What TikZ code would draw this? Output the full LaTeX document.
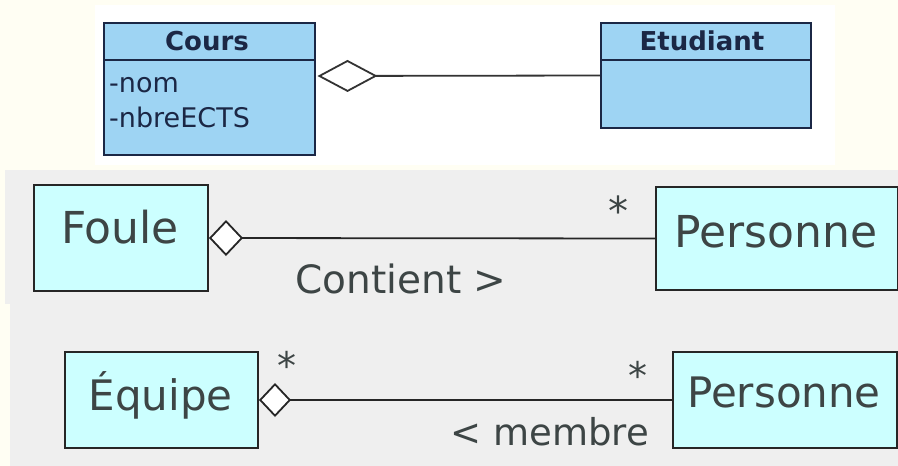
\documentclass[tikz,border=0pt]{standalone}
\usepackage{fontspec}
\setmainfont{DejaVu Sans}
\usetikzlibrary{arrows.meta}
\definecolor{cream}{HTML}{FFFEF3}
\definecolor{panelgray}{HTML}{EFEFEF}
\definecolor{umlblue}{HTML}{9ED4F3}
\definecolor{navy}{HTML}{1B2745}
\definecolor{cyanfill}{HTML}{CCFFFF}
\definecolor{darktext}{HTML}{3D4545}
\tikzset{
  umlbox/.style={draw=navy, line width=2pt, fill=umlblue, anchor=north west, inner sep=0pt},
  classbox/.style={draw=black!85, line width=2pt, fill=cyanfill, anchor=north west, inner sep=0pt},
  hdr/.style={font=\fontsize{26}{30}\bfseries, text=navy, anchor=base, inner sep=0pt},
  attr/.style={font=\fontsize{27}{30}\selectfont, text=navy, anchor=base west, inner sep=0pt},
  bigname/.style={font=\fontsize{44}{48}\selectfont, text=darktext, anchor=base, inner sep=0pt},
  midname/.style={font=\fontsize{42}{46}\selectfont, text=darktext, anchor=base, inner sep=0pt},
  mult/.style={font=\fontsize{40}{44}\selectfont, text=darktext, anchor=base, inner sep=0pt},
  assoc/.style={text=darktext, anchor=base, inner sep=0pt},
  aggr/.style={line width=1.8pt, draw=black!85},
}
\begin{document}
\begin{tikzpicture}[x=1pt, y=-1pt]
  % backgrounds
  \fill[cream] (0,0) rectangle (898,466);
  \fill[white] (95,5) rectangle (835,165);
  \fill[panelgray] (5,170) rectangle (898,304);
  \fill[panelgray] (10,304) rectangle (898,466);
  \useasboundingbox (0,0) rectangle (898,466);

  % ---- top: Cours / Etudiant ----
  \node[umlbox, minimum width=211pt, minimum height=132pt] (cours) at (103,22) {};
  \draw[navy, line width=2pt] (cours.west |- 0,60) -- (cours.east |- 0,60);
  \node[hdr] (coursT) at (207,50) {Cours};
  \node[attr] (nom) at (109,92) {-nom};
  \node[attr] (ects) at (109,127) {-nbreECTS};

  \node[umlbox, minimum width=210pt, minimum height=105pt] (etud) at (600,22) {};
  \draw[navy, line width=2pt] (etud.west |- 0,60) -- (etud.east |- 0,60);
  \node[hdr] (etudT) at (702,50) {Etudiant};

  \draw[line width=1.8pt, draw=black!80, {Diamond[open, length=60pt, width=32pt, line width=1.8pt]}-]
    ([xshift=1.5pt, yshift=13pt]cours.east) -- (etud.west);

  % ---- middle: Foule / Personne ----
  \node[classbox, minimum width=174pt, minimum height=106pt] (foule) at (33,184) {};
  \node[bigname] (fouleT) at (120,243) {Foule};
  \node[classbox, minimum width=242pt, minimum height=103pt] (pers1) at (655,186) {};
  \node[bigname] (pers1T) at (776,247) {Personne};
  \draw[aggr, {Diamond[fill=white, length=34pt, width=36pt, line width=1.8pt]}-]
    (foule.east) -- (pers1.west);
  \node[mult] (m1) at (618,225) {*};
  \node[assoc, font=\fontsize{39}{44}\selectfont] (contient) at (401,293) {Contient >};

  % ---- bottom: Équipe / Personne ----
  \node[classbox, minimum width=193pt, minimum height=96pt] (equipe) at (64,351) {};
  \node[midname] (equipeT) at (160.5,410) {Équipe};
  \node[classbox, minimum width=224pt, minimum height=96pt] (pers2) at (672,351) {};
  \node[midname] (pers2T) at (784,407) {Personne};
  \draw[aggr, {Diamond[fill=white, length=32pt, width=34pt, line width=1.8pt]}-]
    (equipe.east) -- (pers2.west);
  \node[mult, font=\fontsize{38}{42}\selectfont] (m2) at (287,379) {*};
  \node[mult, font=\fontsize{38}{42}\selectfont] (m3) at (638,389) {*};
  \node[assoc, font=\fontsize{37}{42}\selectfont] (membre) at (550,445) {< membre};
\end{tikzpicture}
\end{document}
